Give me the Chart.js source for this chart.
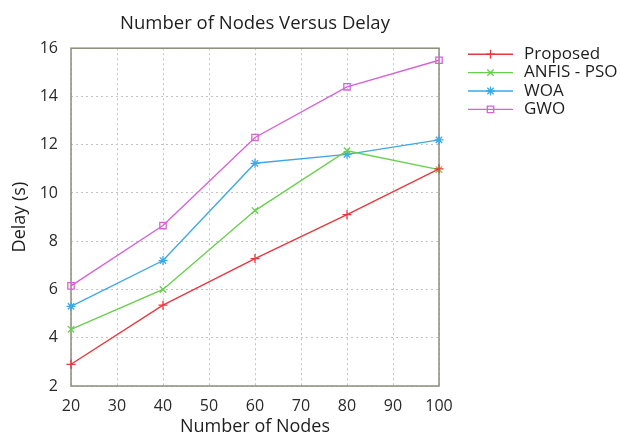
<!DOCTYPE html>
<html>
<head>
<meta charset="utf-8">
<script src="https://cdn.jsdelivr.net/npm/chart.js@4/dist/chart.umd.min.js"></script>
<style>
  html, body { margin: 0; padding: 0; background: #ffffff; }
  #wrap { width: 620px; height: 435px; }
</style>
</head>
<body>
<div id="wrap"><canvas id="c" width="620" height="435"></canvas></div>
<script>
// ---- data ----
const nodes = [20, 40, 60, 80, 100];
const proposed = [2.9, 5.35, 7.28, 9.1, 11.0];
const anfisPso = [4.35, 6.0, 9.27, 11.75, 10.97];
const woa = [5.3, 7.2, 11.23, 11.6, 12.2];
const gwo = [6.15, 8.65, 12.3, 14.4, 15.5];
const seriesNames = ['Proposed', 'ANFIS - PSO', 'WOA', 'GWO'];
const xTicks = [20, 30, 40, 50, 60, 70, 80, 90, 100];
const yTicks = [2, 4, 6, 8, 10, 12, 14, 16];

const colors = ['#e8383d', '#66d04c', '#3ea8e5', '#d663d6'];
const styles = ['cross', 'crossRot', 'star', 'rect'];
const fills = ['#e8383d', '#66d04c', '#3ea8e5', 'rgba(255,255,255,0)'];
const FONT = "'Open Sans', 'DejaVu Sans', sans-serif";

function toPts(vals) { return nodes.map((n, i) => ({ x: n, y: vals[i] })); }

const allSeries = [proposed, anfisPso, woa, gwo];
const datasets = allSeries.map((vals, i) => ({
  label: seriesNames[i],
  data: toPts(vals),
  borderColor: colors[i],
  backgroundColor: fills[i],
  pointBackgroundColor: fills[i],
  pointBorderColor: colors[i],
  pointStyle: styles[i],
  pointRadius: 4.5,
  pointBorderWidth: 1.3,
  borderWidth: 1.4,
  tension: 0,
  clip: false
}));

const framePlugin = {
  id: 'frame',
  beforeDatasetsDraw(chart) {
    const a = chart.chartArea, ctx = chart.ctx;
    ctx.save();
    ctx.strokeStyle = '#8c8c7c';
    ctx.lineWidth = 1.5;
    ctx.strokeRect(a.left, a.top, a.right - a.left, a.bottom - a.top);
    ctx.restore();
  }
};

const sideLegend = {
  id: 'sideLegend',
  afterDraw(chart) {
    const a = chart.chartArea, ctx = chart.ctx;
    const x0 = a.right + 29, x1 = a.right + 74, tx = a.right + 85;
    chart.data.datasets.forEach((ds, i) => {
      const y = a.top + 6 + i * 18.4;
      ctx.save();
      ctx.strokeStyle = ds.borderColor;
      ctx.lineWidth = ds.borderWidth;
      ctx.beginPath(); ctx.moveTo(x0, y); ctx.lineTo(x1, y); ctx.stroke();
      ctx.fillStyle = ds.pointBackgroundColor;
      ctx.lineWidth = ds.pointBorderWidth;
      Chart.helpers.drawPoint(ctx, { pointStyle: ds.pointStyle, radius: 4.5, borderWidth: ds.pointBorderWidth, rotation: 0 }, (x0 + x1) / 2, y);
      ctx.fillStyle = '#1e1e1e';
      ctx.font = "17px " + FONT;
      ctx.textBaseline = 'middle';
      ctx.textAlign = 'left';
      ctx.fillText(ds.label, tx, y);
      ctx.restore();
    });
  }
};

new Chart(document.getElementById('c'), {
  type: 'line',
  data: { datasets },
  options: {
    responsive: false,
    animation: false,
    events: [],
    layout: { padding: { left: 0, right: 181, top: 0, bottom: 0 } },
    plugins: {
      legend: { display: false },
      tooltip: { enabled: false },
      title: {
        display: true,
        fullSize: false,
        text: 'Number of Nodes Versus Delay',
        color: '#1e1e1e',
        font: { family: FONT, size: 18.5, weight: 'normal', lineHeight: 1.2 },
        padding: { top: 13, bottom: 13 }
      }
    },
    scales: {
      x: {
        type: 'linear',
        min: 20, max: 100,
        afterBuildTicks(scale) { scale.ticks = xTicks.map(v => ({ value: v })); },
        afterFit(scale) { scale.height = 49; },
        grid: { color: '#c4c4c4', lineWidth: 1, drawTicks: false },
        border: { display: false, dash: [2, 3] },
        ticks: { color: '#2a2a2a', font: { family: FONT, size: 16 }, padding: 11, maxRotation: 0 },
        title: {
          display: true, text: 'Number of Nodes', color: '#1e1e1e',
          font: { family: FONT, size: 18, lineHeight: 1 },
          padding: { top: 0, bottom: -1 }
        }
      },
      y: {
        type: 'linear',
        min: 2, max: 16,
        afterBuildTicks(scale) { scale.ticks = yTicks.map(v => ({ value: v })); },
        afterFit(scale) { scale.width = 71; },
        grid: { color: '#c4c4c4', lineWidth: 1, drawTicks: false },
        border: { display: false, dash: [2, 3] },
        ticks: { color: '#2a2a2a', font: { family: FONT, size: 16 }, padding: 13 },
        title: {
          display: true, text: 'Delay (s)', color: '#1e1e1e',
          font: { family: FONT, size: 18, lineHeight: 1.2 },
          padding: { top: 9, bottom: 0 }
        }
      }
    }
  },
  plugins: [framePlugin, sideLegend]
});
</script>
</body>
</html>
